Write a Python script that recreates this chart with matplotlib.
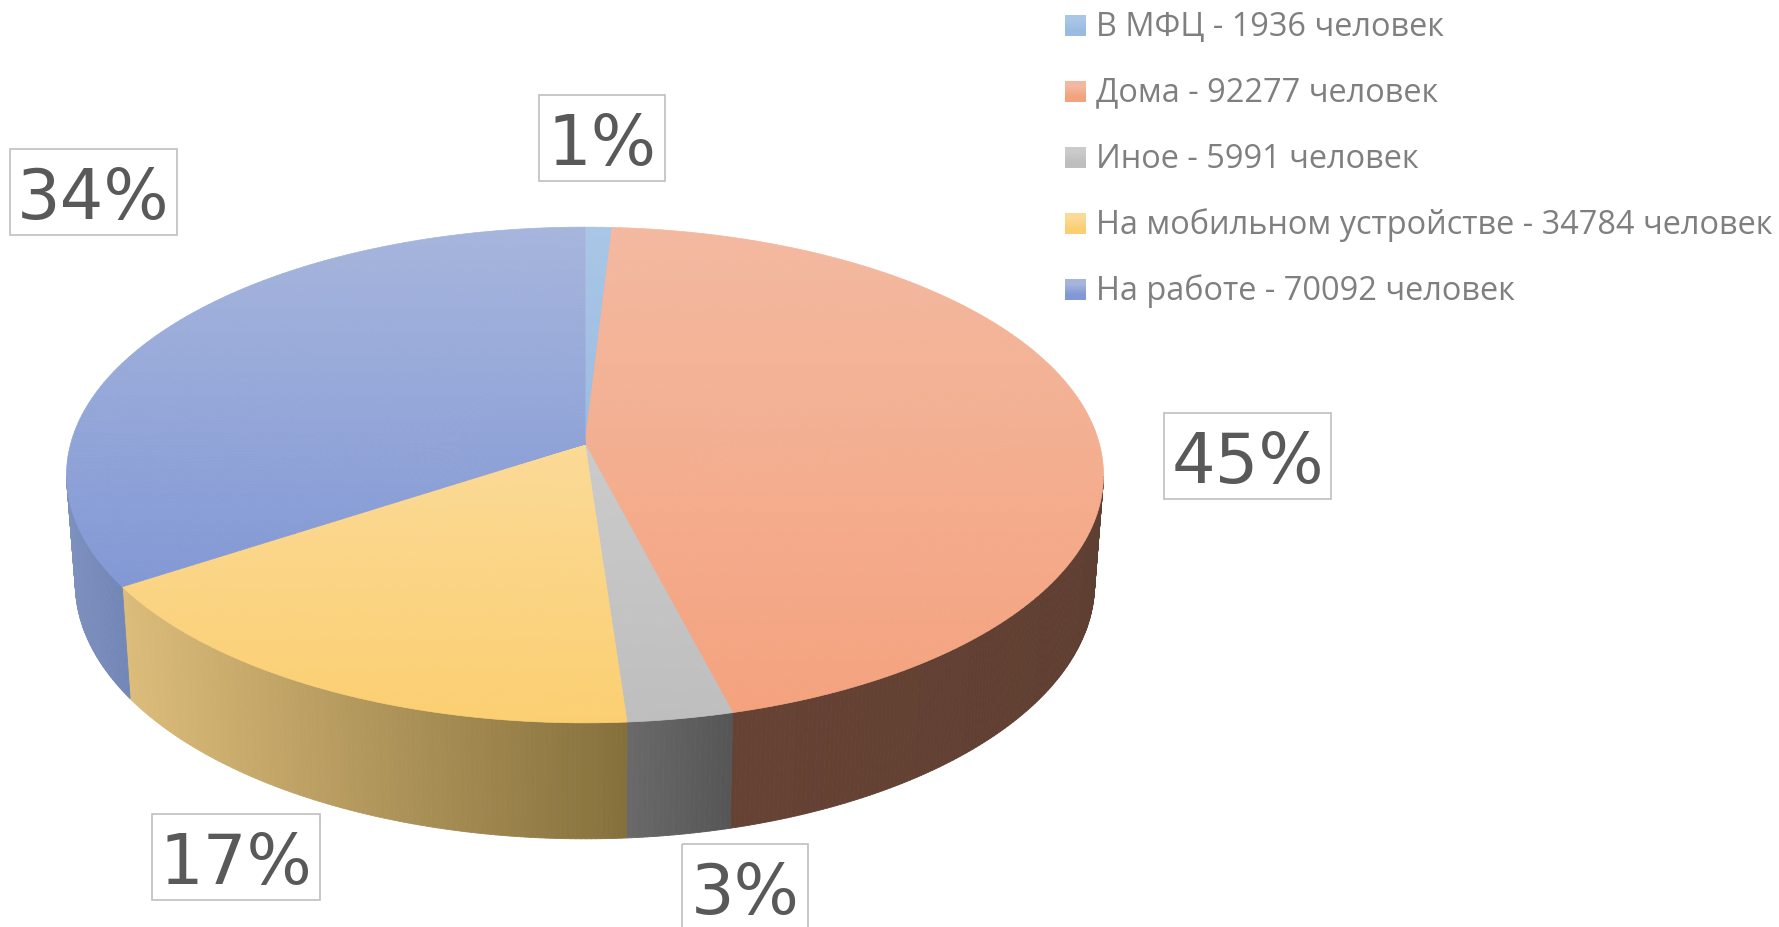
import numpy as np
import matplotlib
matplotlib.use('Agg')
import matplotlib.pyplot as plt
from matplotlib.collections import PolyCollection
from matplotlib.colors import to_rgb
from matplotlib.patches import Rectangle

# data
categories = ['В МФЦ', 'Дома', 'Иное', 'На мобильном устройстве', 'На работе']
people = [1936, 92277, 5991, 34784, 70092]

# gradients: top face light -> full, side face left -> right
top_light = ['#A9C6E6', '#F3B9A0', '#CBCBCB', '#FBDA97', '#A6B5DC']
top_full = ['#9ABBE2', '#F4A27E', '#BEBEBE', '#FBCF71', '#8298D5']
side_left = ['#6F8FB0', '#664234', '#6A6A6A', '#DCBC7A', '#7D90BE']
side_right = ['#6F8FB0', '#5F3F32', '#565656', '#85703C', '#7286B7']

# label boxes in pixels: left, top, right, bottom (same order as categories)
label_boxes = [(539, 95, 665, 181), (1164, 413, 1331, 499), (682, 844, 808, 930),
               (152, 814, 320, 900), (10, 149, 177, 235)]

# perspective of the disc, in pixels
CX, CY = 585, 444
PERSP = 0.125
RX, RY = 514.4, 244
DEPTH = 107.6
BOTTOM_SX, BOTTOM_SY = 0.983, 1.03


def top_point(r, theta):
    x, y = r * np.sin(theta), r * np.cos(theta)
    w = 1 + PERSP * y
    return CX + RX * x / w, CY - RY * y / w


def bottom_point(theta):
    x, y = np.sin(theta), np.cos(theta)
    w = 1 + PERSP * y
    return CX + BOTTOM_SX * RX * x / w, CY - BOTTOM_SY * RY * y / w + DEPTH


def mix(c1, c2, t):
    t = np.clip(t, 0, 1)
    return tuple((1 - t) * a + t * b for a, b in zip(to_rgb(c1), to_rgb(c2)))


fig = plt.figure(figsize=(17.79, 9.27), dpi=100)
ax = fig.add_axes([0, 0, 1, 1])
ax.set_xlim(0, 1779)
ax.set_ylim(927, 0)
ax.axis('off')

shares = np.array(people) / sum(people)
edges = np.concatenate([[0], np.cumsum(shares)]) * 2 * np.pi

# side wall first, only the part facing the viewer
for i in range(len(people)):
    steps = max(int(np.degrees(edges[i + 1] - edges[i])), 1) * 2
    th = np.linspace(edges[i], edges[i + 1], steps + 1)
    th = th[np.cos(th) <= -PERSP]
    if len(th) < 2:
        continue
    x0, _ = top_point(1, th)
    lo, hi = x0.min(), x0.max()
    quads, cols = [], []
    for a, b in zip(th[:-1], th[1:]):
        ax1, ay1 = top_point(1, a)
        ax2, ay2 = top_point(1, b)
        bx1, by1 = bottom_point(a)
        bx2, by2 = bottom_point(b)
        quads.append([(ax1, ay1), (ax2, ay2), (bx2, by2), (bx1, by1)])
        cols.append(mix(side_left[i], side_right[i], ((ax1 + ax2) / 2 - lo) / (hi - lo)))
    ax.add_collection(PolyCollection(quads, facecolors=cols, edgecolors=cols, linewidths=0.6))

# top face, vertical gradient per slice
radii = np.linspace(0, 1, 71)
for i in range(len(people)):
    steps = max(int(np.degrees(edges[i + 1] - edges[i])), 2)
    th = np.linspace(edges[i], edges[i + 1], steps + 1)
    rr, tt = np.meshgrid(radii, th)
    _, ys = top_point(rr, tt)
    lo, hi = ys.min(), ys.max()
    quads, cols = [], []
    for a, b in zip(th[:-1], th[1:]):
        for r1, r2 in zip(radii[:-1], radii[1:]):
            p = [top_point(r1, a), top_point(r2, a), top_point(r2, b), top_point(r1, b)]
            quads.append(p)
            cols.append(mix(top_light[i], top_full[i], (np.mean([q[1] for q in p]) - lo) / (hi - lo)))
    ax.add_collection(PolyCollection(quads, facecolors=cols, edgecolors=cols, linewidths=0.5))

# percent labels
for i, box in enumerate(label_boxes):
    left, top, right, bottom = box
    ax.add_patch(Rectangle((left, top), right - left, bottom - top, fill=False,
                           edgecolor='#BFBFBF', linewidth=1.2, clip_on=True))
    ax.text((left + right) / 2, top + 70, f'{round(shares[i] * 100)}%', ha='center', va='baseline',
            fontsize=49.5, color='#595959', family='DejaVu Sans')

# legend
for i, name in enumerate(categories):
    y = 15 + 66 * i
    grad = np.array([[to_rgb(top_light[i])], [to_rgb(top_full[i])]])
    ax.imshow(grad, extent=(1065, 1086, y + 21, y), aspect='auto', interpolation='bilinear', zorder=3)
    ax.text(1096, y + 20.5, f'{name} - {people[i]} человек', ha='left', va='baseline',
            fontsize=23.4, color='#7F7F7F', family='Open Sans')

ax.set_xlim(0, 1779)
ax.set_ylim(927, 0)

fig.savefig('out.png', dpi=100)
